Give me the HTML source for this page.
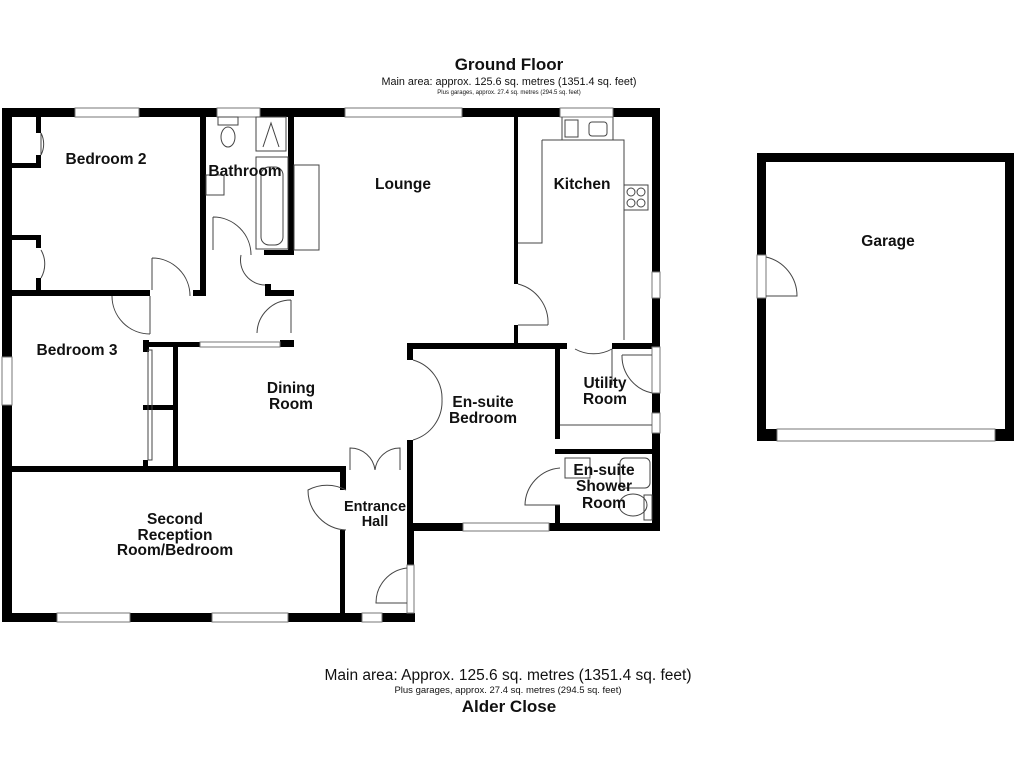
<!DOCTYPE html>
<html><head><meta charset="utf-8"><style>
body{margin:0;background:#fff;width:1024px;height:768px;overflow:hidden}
svg{display:block}
text{font-family:"Liberation Sans",Arial,sans-serif;fill:#111}
.l{font-weight:bold;font-size:15.5px;text-anchor:middle}
</style></head><body>
<svg width="1024" height="768" viewBox="0 0 1024 768">
<g fill="#000">
<rect x="2" y="108" width="658" height="9"/>
<rect x="2" y="108" width="10" height="514"/>
<rect x="2" y="613" width="413" height="9"/>
<rect x="652" y="108" width="8" height="423"/>
<rect x="407" y="523" width="253" height="8"/>
<rect x="407" y="523" width="7" height="42"/>
<rect x="407" y="440" width="6" height="90"/>
<rect x="407" y="343" width="6" height="17"/>
<rect x="200" y="116" width="6" height="180"/>
<rect x="10" y="290" width="140" height="6"/>
<rect x="193" y="290" width="13" height="6"/>
<rect x="36" y="116" width="5" height="17"/>
<rect x="36" y="155" width="5" height="13"/>
<rect x="10" y="163" width="31" height="5"/>
<rect x="10" y="235" width="31" height="5"/>
<rect x="36" y="235" width="5" height="13"/>
<rect x="36" y="278" width="5" height="14"/>
<rect x="288" y="116" width="6" height="138"/>
<rect x="264" y="250" width="30" height="5"/>
<rect x="265" y="284" width="6" height="12"/>
<rect x="265" y="290" width="29" height="6"/>
<rect x="143" y="340" width="6" height="12"/>
<rect x="143" y="342" width="57" height="5"/>
<rect x="280" y="340" width="14" height="7"/>
<rect x="173" y="343" width="5" height="124"/>
<rect x="143" y="405" width="32" height="5"/>
<rect x="143" y="460" width="5" height="8"/>
<rect x="10" y="466" width="336" height="6"/>
<rect x="340" y="466" width="6" height="24"/>
<rect x="340" y="530" width="5" height="86"/>
<rect x="514" y="116" width="4" height="168"/>
<rect x="514" y="325" width="4" height="20"/>
<rect x="407" y="343" width="160" height="6"/>
<rect x="555" y="343" width="5" height="96"/>
<rect x="555" y="505" width="5" height="25"/>
<rect x="612" y="343" width="48" height="6"/>
<rect x="555" y="449" width="105" height="5"/>
</g>
<g fill="#fff" stroke="#777" stroke-width="1">
<rect x="75" y="108" width="64" height="9"/>
<rect x="217" y="108" width="43" height="9"/>
<rect x="345" y="108" width="117" height="9"/>
<rect x="560" y="108" width="53" height="9"/>
<rect x="2" y="357" width="10" height="48"/>
<rect x="57" y="613" width="73" height="9"/>
<rect x="212" y="613" width="76" height="9"/>
<rect x="362" y="613" width="20" height="9"/>
<rect x="200" y="342" width="80" height="5"/>
<rect x="463" y="523" width="86" height="8"/>
<rect x="652" y="272" width="8" height="26"/>
<rect x="652" y="347" width="8" height="46"/>
<rect x="652" y="413" width="8" height="20"/>
<rect x="407" y="565" width="7" height="48"/>
</g>
<g fill="none" stroke="#444" stroke-width="1">
<path d="M41 133 A24 24 0 0 1 41 155"/><path d="M41 133 L41 155"/>
<path d="M41 250 A28 28 0 0 1 41 278"/>
<path d="M152 258 A38 38 0 0 1 190 296 M152 258 V290"/>
<path d="M112 296 A38 38 0 0 0 150 334 M150 334 V296"/>
<path d="M213 217 A38 38 0 0 1 251 255 M213 217 V250"/>
<path d="M241 255 A25 25 0 0 0 265 285"/>
<path d="M257 333 A34 34 0 0 1 291 300 M291 300 V333"/>
<path d="M518 284 A40 40 0 0 1 548 325 M518 325 H548"/>
<path d="M413 360 A40 40 0 0 1 442 400 A40 40 0 0 1 413 440"/>
<path d="M350 470 V448 A25 25 0 0 1 375 470 A25 25 0 0 1 400 448 V470"/>
<path d="M346 490 A40 40 0 0 0 308 490 A40 40 0 0 0 346 530"/>
<path d="M407 568 A35 35 0 0 0 376 603 H407"/>
<path d="M560 468 A38 38 0 0 0 525 505 H560"/>
<path d="M575 349 A38 38 0 0 0 612 349 M612 349 V385"/>
<path d="M622 355 A38 38 0 0 0 652 393 M622 355 H652"/>
<path d="M542 140 H624 V340 M542 140 V243 H518"/>
<path d="M562 117 V140 M613 117 V140"/>
<rect x="624" y="185" width="24" height="25"/>
<circle cx="631" cy="192" r="4"/><circle cx="641" cy="192" r="4"/><circle cx="631" cy="203" r="4"/><circle cx="641" cy="203" r="4"/>
<rect x="589" y="122" width="18" height="14" rx="3"/>
<rect x="565" y="120" width="13" height="17"/>
<path d="M560 425 H652"/>
<ellipse cx="228" cy="137" rx="7" ry="10"/><rect x="218" y="117" width="20" height="8"/>
<rect x="256" y="117" width="30" height="34"/><path d="M263 147 L271 123 L279 147"/>
<rect x="256" y="157" width="32" height="92"/><rect x="261" y="167" width="22" height="78" rx="8"/>
<rect x="294" y="165" width="25" height="85"/>
<rect x="206" y="175" width="18" height="20"/>
<rect x="148" y="350" width="4" height="110"/>
<rect x="565" y="458" width="25" height="20"/>
<rect x="620" y="458" width="30" height="30" rx="5"/>
<ellipse cx="633" cy="505" rx="14" ry="11"/><rect x="644" y="495" width="8" height="25"/>
</g>
<g fill="#000">
<rect x="757" y="153" width="257" height="9"/>
<rect x="757" y="153" width="9" height="288"/>
<rect x="1005" y="153" width="9" height="288"/>
<rect x="757" y="429" width="257" height="12"/>
</g>
<rect x="777" y="429" width="218" height="12" fill="#fff" stroke="#777"/>
<rect x="757" y="255" width="9" height="43" fill="#fff" stroke="#777"/>
<path d="M766 257 A40 40 0 0 1 797 296 H766" fill="none" stroke="#444"/>
<text x="509" y="70" class="l" style="font-size:17px">Ground Floor</text>
<text x="509" y="85" text-anchor="middle" font-size="10.8">Main area: approx. 125.6 sq. metres (1351.4 sq. feet)</text>
<text x="509" y="94" text-anchor="middle" font-size="6">Plus garages, approx. 27.4 sq. metres (294.5 sq. feet)</text>
<text x="106" y="164" class="l">Bedroom 2</text>
<text x="245" y="176" class="l">Bathroom</text>
<text x="403" y="189" class="l">Lounge</text>
<text x="582" y="189" class="l">Kitchen</text>
<text x="888" y="246" class="l">Garage</text>
<text x="77" y="355" class="l">Bedroom 3</text>
<text x="291" y="393" class="l">Dining</text>
<text x="291" y="409" class="l">Room</text>
<text x="483" y="407" class="l">En-suite</text>
<text x="483" y="423" class="l">Bedroom</text>
<text x="605" y="388" class="l">Utility</text>
<text x="605" y="404" class="l">Room</text>
<text x="604" y="475" class="l">En-suite</text>
<text x="604" y="491" class="l">Shower</text>
<text x="604" y="508" class="l">Room</text>
<text x="375" y="511" class="l" style="font-size:14.5px">Entrance</text>
<text x="375" y="526" class="l" style="font-size:14.5px">Hall</text>
<text x="175" y="524" class="l">Second</text>
<text x="175" y="540" class="l">Reception</text>
<text x="175" y="555" class="l">Room/Bedroom</text>
<text x="508" y="680" text-anchor="middle" font-size="15.5">Main area: Approx. 125.6 sq. metres (1351.4 sq. feet)</text>
<text x="508" y="693" text-anchor="middle" font-size="9.5">Plus garages, approx. 27.4 sq. metres (294.5 sq. feet)</text>
<text x="509" y="712" class="l" style="font-size:17px">Alder Close</text>
</svg>
</body></html>
